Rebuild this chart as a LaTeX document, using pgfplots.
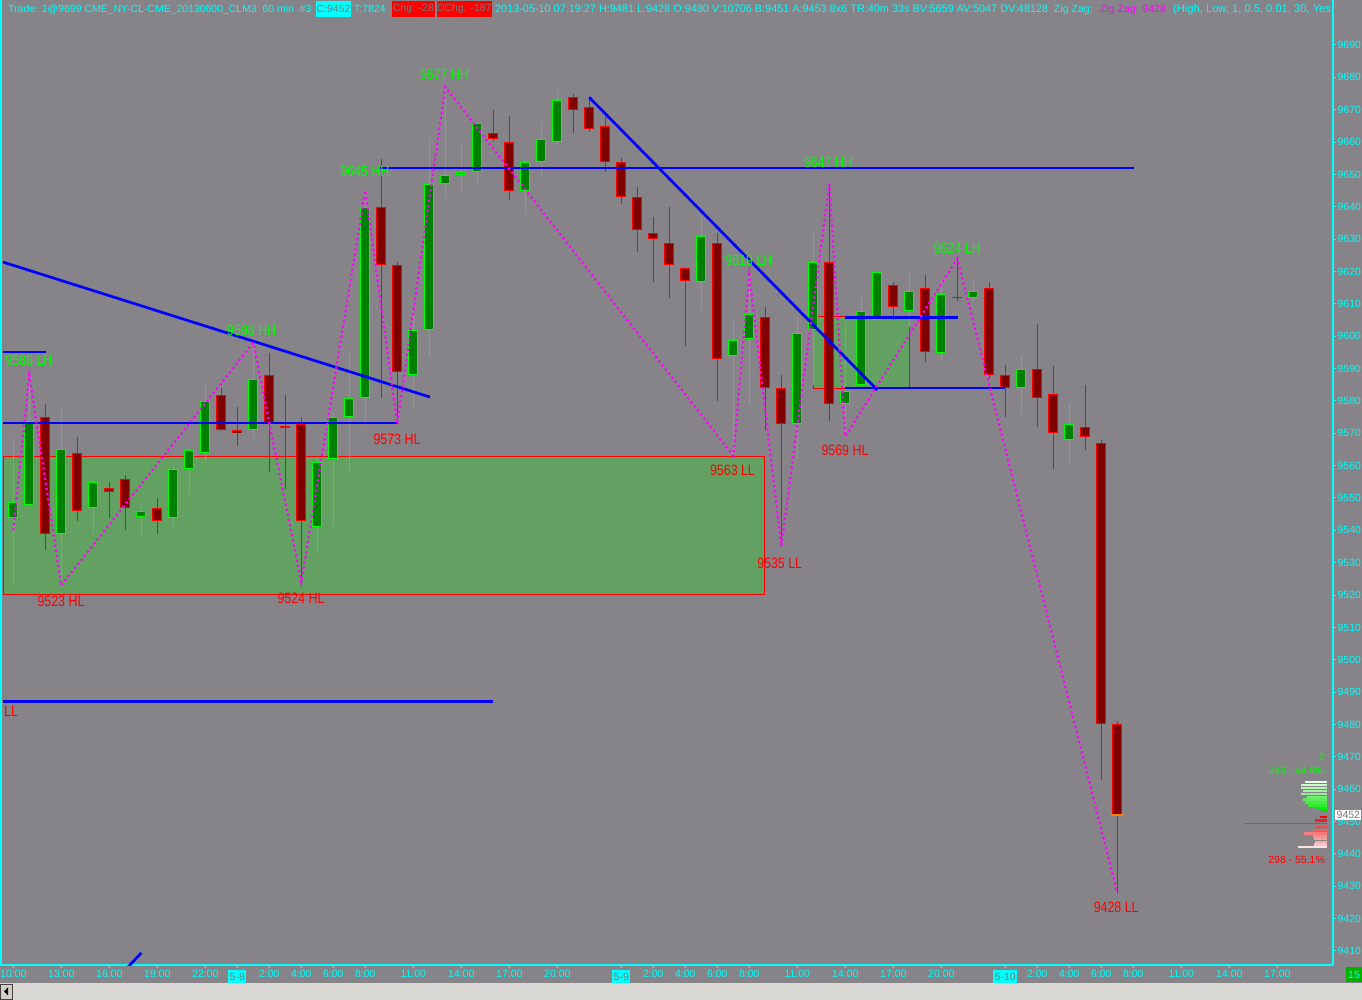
\documentclass[border=0pt]{standalone}
\usepackage{fontspec}
\setmainfont{Liberation Sans}
\newfontfamily\lab[FakeStretch=0.83]{Liberation Sans}
\usepackage{pgfplots}
\pgfplotsset{compat=1.18}
\usepackage{pgfplotstable}

\definecolor{bg}{RGB}{134,132,136}
\definecolor{aqua}{RGB}{0,255,255}
\definecolor{upfill}{RGB}{0,128,0}
\definecolor{upline}{RGB}{0,255,0}
\definecolor{dnfill}{RGB}{128,0,0}
\definecolor{dnline}{RGB}{255,0,0}
\definecolor{zz}{RGB}{255,0,255}
\definecolor{trend}{RGB}{0,0,255}
\definecolor{zone}{RGB}{99,161,99}
\definecolor{txtgray}{RGB}{120,120,120}
\definecolor{scroll}{RGB}{218,216,212}
\definecolor{btn}{RGB}{212,208,200}

\newcommand{\dbox}[1]{{\fboxsep=1.5bp\colorbox{aqua}{\textcolor{txtgray}{\strut#1}}}}
\newcommand{\labfont}{\lab\fontsize{15}{16}\selectfont}

% hourly bars, CLM3, 60 min (x = bar number, 0 = 5-7 10:00)
\pgfplotstableread{
i o h l c
0 9544 9569 9523 9549
1 9548 9588 9547 9574
3 9539 9578 9523 9565
5 9547 9555 9539 9555
8 9544 9548 9538 9546
10 9544 9560 9541 9559
11 9559 9565 9551 9565
12 9564 9585 9561 9580
15 9571 9598 9569 9587
19 9541 9562 9533 9561
20 9562 9576 9541 9575
21 9575 9595 9558 9581
22 9581 9645 9572 9640
25 9588 9608 9578 9602
26 9602 9661 9594 9647
27 9647 9677 9643 9650
28 9650 9659 9645 9651
29 9651 9666 9647 9666
32 9645 9655 9638 9654
33 9654 9666 9649 9661
34 9660 9676 9659 9673
43 9617 9637 9608 9631
45 9594 9605 9563 9599
46 9599 9619 9579 9607
49 9573 9606 9562 9601
50 9602 9632 9585 9623
52 9579 9604 9569 9583
53 9585 9612 9584 9608
54 9605 9620 9604 9620
56 9608 9620 9603 9614
58 9595 9618 9592 9613
60 9612 9618 9611 9614
63 9584 9594 9576 9590
66 9568 9579 9561 9573
}\upbars

\pgfplotstableread{
i o h l c
2 9575 9579 9534 9539
4 9564 9569 9543 9546
6 9553 9555 9544 9552
7 9556 9557 9540 9547
9 9547 9550 9539 9543
13 9582 9584 9571 9571
14 9571 9578 9566 9570
16 9588 9595 9558 9573
17 9572 9582 9553 9572
18 9573 9575 9524 9543
23 9640 9655 9581 9622
24 9622 9623 9573 9589
30 9663 9670 9660 9661
31 9660 9668 9642 9645
35 9674 9675 9663 9670
36 9671 9673 9663 9664
37 9665 9668 9651 9654
38 9654 9655 9641 9643
39 9643 9646 9626 9633
40 9632 9637 9617 9630
41 9629 9640 9612 9622
42 9621 9621 9597 9617
44 9629 9632 9580 9593
47 9606 9609 9571 9584
48 9584 9588 9535 9573
51 9623 9647 9574 9579
55 9616 9617 9605 9609
57 9615 9619 9592 9595
59 9612 9624 9611 9612
61 9615 9617 9587 9588
62 9588 9591 9575 9584
64 9590 9604 9572 9581
65 9582 9591 9559 9570
67 9572 9585 9565 9569
68 9567 9568 9463 9480
69 9480 9481 9428 9452
}\downbars

\pgfplotsset{
  candle/.style 2 args={draw=none, mark=none, forget plot,
    error bars/.cd, y dir=both, y explicit, error mark=none,
    error bar style={line width=#1, draw=#2, solid}},
  trendline/.style={trend, line width=2.7bp, forget plot},
}

\begin{document}
\begin{tikzpicture}
\useasboundingbox (0,0) rectangle (1362bp,1000bp);
\clip (0,0) rectangle (1362bp,1000bp);
\fill[bg] (0,0) rectangle (1362bp,1000bp);

\begin{axis}[
  at={(0,35bp)}, anchor=south west,
  width=1333bp, height=965bp, scale only axis,
  xmin=-0.831, xmax=82.48,
  ymin=9405.67, ymax=9703.91,
  axis x line=bottom, axis y line=right,
  axis line style={-, aqua, line width=1.2bp},
  tick align=outside, major tick length=3bp,
  tick style={aqua, line width=1bp},
  xtick={0,3,6,9,12,14,16,18,20,22,25,28,31,34,38,40,42,44,46,49,52,55,58,62,64,66,68,70,73,76,79},
  xticklabels={10:00,13:00,16:00,19:00,22:00,\dbox{5-8},2:00,4:00,6:00,8:00,11:00,14:00,17:00,20:00,\dbox{5-9},2:00,4:00,6:00,8:00,11:00,14:00,17:00,20:00,\dbox{5-10},2:00,4:00,6:00,8:00,11:00,14:00,17:00},
  ytick={9410,9420,...,9690},
  ticklabel style={font=\fontsize{10.5}{12}\selectfont, text=aqua},
  xticklabel style={inner sep=2bp},
  yticklabel style={inner sep=1.5bp, /pgf/number format/.cd, fixed, set thousands separator={}, assume math mode=true},
]
% shaded zones
\addplot[fill=zone, draw=dnline, line width=1bp, forget plot]
  coordinates {(-0.64,9520.3) (46.98,9520.3) (46.98,9562.7) (-0.64,9562.7)} --cycle;
\addplot[fill=zone, draw=dnline, line width=1bp, forget plot]
  coordinates {(50,9583.9) (56,9583.9) (56,9606) (50,9606)} --cycle;

% up candles
\addplot[candle={1bp}{upline}] table[x=i, y expr={(\thisrow{h}+\thisrow{l})/2}, y error expr={(\thisrow{h}-\thisrow{l})/2}] {\upbars};
\addplot[candle={10bp}{upline}] table[x=i, y expr={(\thisrow{o}+\thisrow{c})/2}, y error expr={max(abs(\thisrow{c}-\thisrow{o})/2,0.16)}] {\upbars};
\addplot[candle={8bp}{upfill}] table[x=i, y expr={(\thisrow{o}+\thisrow{c})/2}, y error expr={max(abs(\thisrow{c}-\thisrow{o})/2-0.31,0)}] {\upbars};
% down candles
\addplot[candle={1bp}{dnline}] table[x=i, y expr={(\thisrow{h}+\thisrow{l})/2}, y error expr={(\thisrow{h}-\thisrow{l})/2}] {\downbars};
\addplot[candle={10bp}{dnline}] table[x=i, y expr={(\thisrow{o}+\thisrow{c})/2}, y error expr={max(abs(\thisrow{c}-\thisrow{o})/2,0.16)}] {\downbars};
\addplot[candle={8bp}{dnfill}] table[x=i, y expr={(\thisrow{o}+\thisrow{c})/2}, y error expr={max(abs(\thisrow{c}-\thisrow{o})/2-0.31,0)}] {\downbars};

% last price
\addplot[color={rgb,255:red,255;green,128;blue,0}, line width=2.2bp, forget plot] coordinates {(68.6,9452) (69.4,9452)};

% trend lines
\addplot[trendline] coordinates {(-0.64,9622.9) (26.04,9581.2)};
\addplot[trendline] coordinates {(-0.64,9573.2) (24.04,9573.2)};
\addplot[trendline] coordinates {(-0.64,9595.1) (2.04,9595.1)};
\addplot[trendline] coordinates {(22.9,9652) (70.04,9652)};
\addplot[trendline] coordinates {(36,9673.8) (54,9583.4)};
\addplot[trendline] coordinates {(52,9605.8) (59.06,9605.8)};
\addplot[trendline] coordinates {(52,9584) (62,9584)};
\addplot[trendline] coordinates {(-0.64,9487.2) (30,9487.2)};
\addplot[trendline] coordinates {(6.4,9401) (8,9409.4)};

% zig zag
\addplot[zz, line width=2.2bp, dash pattern=on 2.2bp off 3bp, forget plot] coordinates {
  (0,9540) (1,9588) (3,9523) (15,9598) (18,9524) (22,9645) (24,9573) (27,9677)
  (45,9563) (46,9619) (48,9535) (51,9647) (52,9569) (59,9624) (69,9428)};

% swing labels
\begin{scope}[font=\labfont]
\node[text=upline] at (axis cs:0.98,9592.6) {9588 LH};
\node[text=upline] at (axis cs:14.9,9601.9) {9598 HH};
\node[text=upline] at (axis cs:21.98,9651) {9645 HH};
\node[text=upline] at (axis cs:26.95,9681) {9677 HH};
\node[text=upline] at (axis cs:45.98,9623.5) {9619 LH};
\node[text=upline] at (axis cs:50.95,9653.7) {9647 HH};
\node[text=upline] at (axis cs:59,9627.2) {9624 LH};
\node[text=dnline] at (axis cs:2.98,9518) {9523 HL};
\node[text=dnline] at (axis cs:17.98,9519) {9524 HL};
\node[text=dnline] at (axis cs:23.98,9568.2) {9573 HL};
\node[text=dnline] at (axis cs:44.95,9558.6) {9563 LL};
\node[text=dnline] at (axis cs:47.9,9529.9) {9535 LL};
\node[text=dnline] at (axis cs:51.98,9564.8) {9569 HL};
\node[text=dnline] at (axis cs:68.93,9423.4) {9428 LL};
\node[text=dnline, anchor=west, inner sep=0] at (axis cs:-0.58,9484.1) {LL};
\end{scope}
\end{axis}

% volume at price profile
\begin{axis}[
  at={(0,35bp)}, anchor=south west,
  width=1333bp, height=965bp, scale only axis, hide axis,
  x dir=reverse, xmin=-5.7, xmax=1327.3,
  ymin=9405.67, ymax=9703.91,
  every axis plot/.append style={xbar, bar width=0.7, draw=none, forget plot},
]
\addplot[fill={rgb,255:red,230;green,255;blue,230}] coordinates {(22,9462.2)};
\addplot[fill={rgb,255:red,205;green,250;blue,205}] coordinates {(26,9461.3)};
\addplot[fill={rgb,255:red,185;green,245;blue,185}] coordinates {(26,9460.4)};
\addplot[fill={rgb,255:red,165;green,240;blue,165}] coordinates {(24,9459.5)};
\addplot[fill={rgb,255:red,145;green,238;blue,145}] coordinates {(26,9458.6)};
\addplot[fill={rgb,255:red,120;green,235;blue,120}] coordinates {(20,9457.7)};
\addplot[fill={rgb,255:red,95;green,235;blue,95}] coordinates {(24,9456.8)};
\addplot[fill={rgb,255:red,70;green,235;blue,70}] coordinates {(22,9455.9)};
\addplot[fill={rgb,255:red,45;green,235;blue,45}] coordinates {(19,9455)};
\addplot[fill={rgb,255:red,20;green,232;blue,20}] coordinates {(11,9454.1)};
\addplot[fill={rgb,255:red,0;green,230;blue,0}] coordinates {(6,9453.2)};
\addplot[fill={rgb,255:red,255;green,0;blue,0}] coordinates {(7,9451.4)};
\addplot[fill={rgb,255:red,245;green,30;blue,30}] coordinates {(12,9450.3)};
\addplot[fill={rgb,255:red,250;green,40;blue,40}, bar width=0.35] coordinates {(82,9449.3)};
\addplot[fill={rgb,255:red,245;green,70;blue,70}] coordinates {(12,9448.4)};
\addplot[fill={rgb,255:red,245;green,95;blue,95}] coordinates {(14,9447.5)};
\addplot[fill={rgb,255:red,245;green,125;blue,125}] coordinates {(23,9446.3)};
\addplot[fill={rgb,255:red,245;green,145;blue,145}] coordinates {(14,9445.4)};
\addplot[fill={rgb,255:red,245;green,160;blue,160}] coordinates {(13,9444.5)};
\addplot[fill={rgb,255:red,245;green,175;blue,175}] coordinates {(12,9443.7)};
\addplot[fill={rgb,255:red,245;green,195;blue,195}] coordinates {(13,9442.9)};
\addplot[fill={rgb,255:red,250;green,225;blue,225}] coordinates {(29,9442.1)};
\end{axis}

% frame and window furniture
\draw[aqua, line width=1.5bp] (1bp,35bp) -- (1bp,1000bp);
\begin{scope}[font=\fontsize{10.5}{12}\selectfont]
\node[text=upline, anchor=east, inner sep=0] at (1325bp,243.5bp) {2};
\node[text=upline, anchor=east, inner sep=0] at (1325bp,229.5bp) {243 - 44.9\%};
\node[text=dnline, anchor=east, inner sep=0] at (1325bp,140.5bp) {298 - 55.1\%};
\node[fill=white, text=txtgray, anchor=west, inner sep=1.5bp] at (1335bp,185bp) {9452};
\node[fill={rgb,255:red,0;green,175;blue,0}, text=aqua, minimum width=17bp, minimum height=15bp, inner sep=0] at (1354bp,25.5bp) {15};
\end{scope}

% scroll bar
\fill[scroll] (0,0) rectangle (1362bp,17bp);
\filldraw[fill=btn, draw=darkgray] (0.5bp,1bp) rectangle (12bp,16bp);
\fill[black] (4bp,8.5bp) -- (8bp,12.5bp) -- (8bp,4.5bp) -- cycle;

% header line
\begin{scope}[font=\fontsize{10.5}{12}\selectfont, text=aqua, inner sep=0]
\node[anchor=base west] at (8bp,987bp) {Trade: 1@9699 CME\_NY-CL-CME\_20130600\_CLM3\ \ 60 min\ \ \#3};
\node[fill=aqua, text=txtgray, minimum width=35bp, minimum height=16bp] at (333.5bp,991bp) {C:9452};
\node[anchor=base west] at (354bp,987bp) {T:7824};
\node[fill=dnline, text=txtgray, minimum width=43.5bp, minimum height=16bp] at (413.3bp,991bp) {Chg: -28};
\node[fill=dnline, text=txtgray, minimum width=55bp, minimum height=16bp] at (464.3bp,991bp) {DChg: -187};
\node[anchor=base west, font=\fontsize{10.9}{12}\selectfont] at (495bp,987bp) {2013-05-10 07:19:27 H:9481 L:9428 O:9480 V:10706 B:9451 A:9453 8x6 TR:40m 33s BV:5659 AV:5047 DV:48128};
\node[anchor=base west] at (1054bp,987bp) {Zig Zag:};
\node[anchor=base west, text=zz] at (1100bp,987bp) {Zig Zag: 9428};
\node[anchor=base west, font=\fontsize{11.2}{12}\selectfont] at (1173bp,987bp) {(High, Low, 1, 0.5, 0.01, 30, Yes};
\end{scope}
\end{tikzpicture}
\end{document}
